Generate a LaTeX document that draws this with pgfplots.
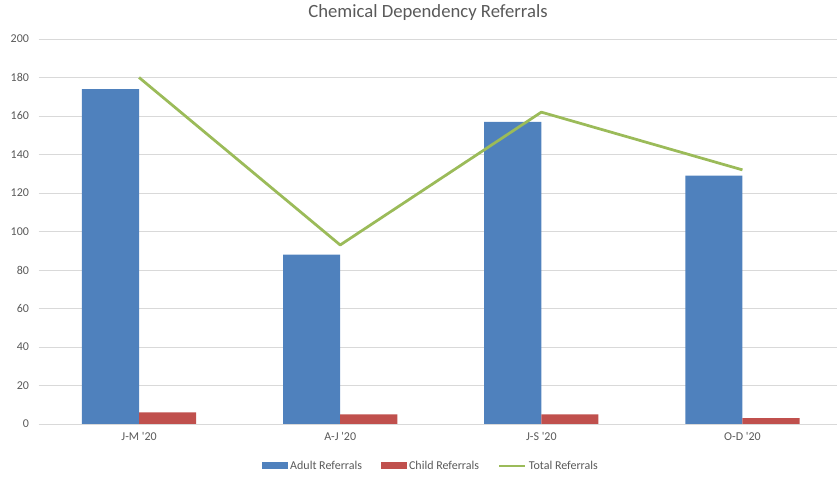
\documentclass[border=0pt]{standalone}
\usepackage{fontspec}
\setmainfont{Carlito}[Ligatures=TeXOff]
\usepackage{pgfplots}
\pgfplotsset{compat=1.18}
\definecolor{cblue}{HTML}{4F81BD}
\definecolor{cred}{HTML}{C0504D}
\definecolor{cgreen}{HTML}{9BBB59}
\definecolor{ctext}{HTML}{595959}
\definecolor{cgrid}{HTML}{D9D9D9}
\begin{document}
\begin{tikzpicture}[x=1bp,y=1bp]
\path[use as bounding box] (0,0) rectangle (837,479);
\begin{axis}[
  at={(38.5bp,55bp)}, anchor=south west,
  scale only axis, width=798.5bp, height=385bp,
  xmin=-0.5, xmax=3.47, ymin=0, ymax=200,
  ytick={0,20,...,200},
  xtick={0,1,2,3},
  xticklabels={J-M '20, A-J '20, J-S '20, O-D '20},
  ymajorgrids, grid style={cgrid, line width=0.75bp},
  axis line style={draw=none},
  major tick length=0pt,
  /pgf/number format/assume math mode=true,
  tick label style={font=\fontsize{12bp}{14bp}\selectfont, text=ctext},
  yticklabel style={xshift=-6bp},
  xticklabel style={yshift=-5bp},
  clip=false,
  legend columns=3,
  legend style={draw=none, fill=none, at={(0.4916,-0.109)}, anchor=center,
    font=\fontsize{12bp}{14bp}\selectfont, text=ctext,
    /tikz/every even column/.append style={column sep=17bp}},
]
\addplot[ybar, bar width=0.284, bar shift=-0.142, fill=cblue, draw=none,
  legend image code/.code={\fill[cblue] (0bp,-3.5bp) rectangle (26bp,3.5bp);}]
  coordinates {(0,174) (1,88) (2,157) (3,129)};
\addlegendentry{Adult Referrals}
\addplot[ybar, bar width=0.284, bar shift=0.142, fill=cred, draw=none,
  legend image code/.code={\fill[cred] (0bp,-3.5bp) rectangle (26bp,3.5bp);}]
  coordinates {(0,6) (1,5) (2,5) (3,3)};
\addlegendentry{Child Referrals}
\addplot[cgreen, line width=2.75bp, line join=round, no marks, sharp plot,
  legend image code/.code={\draw[cgreen, line width=2.75bp] (0bp,0bp) -- (26bp,0bp);}]
  coordinates {(0,180) (1,93) (2,162) (3,132)};
\addlegendentry{Total Referrals}
\end{axis}
\node[font=\fontsize{18.67bp}{22bp}\selectfont, text=ctext] at (428,466) {Chemical Dependency Referrals};
\end{tikzpicture}
\end{document}
